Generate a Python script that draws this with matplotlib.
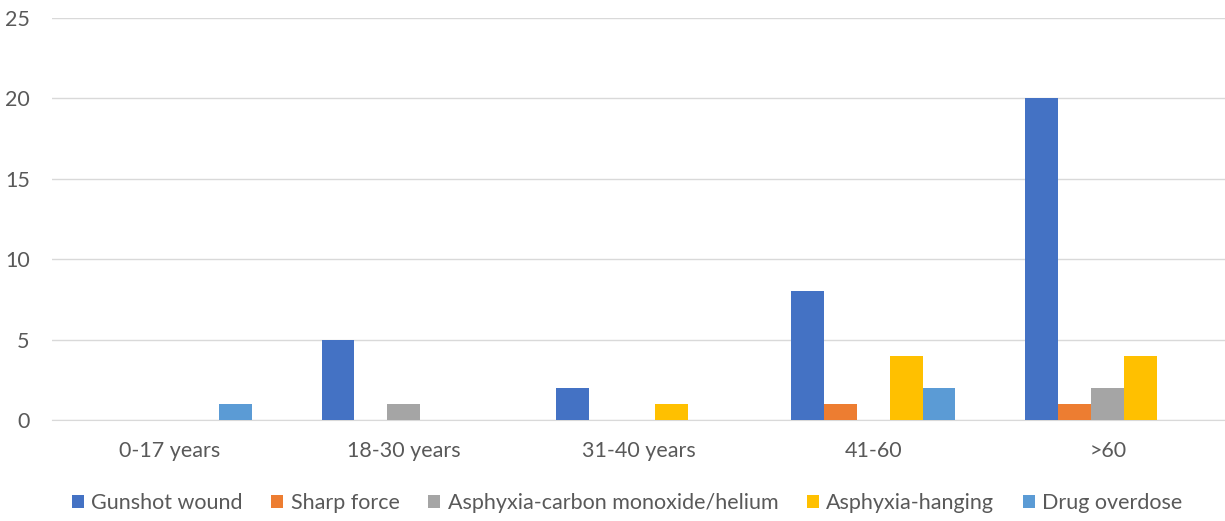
import matplotlib
matplotlib.use("Agg")
import matplotlib.pyplot as plt
import numpy as np

categories = ["0-17 years", "18-30 years", "31-40 years", "41-60", ">60"]
series_names = ["Gunshot wound", "Sharp force", "Asphyxia-carbon monoxide/helium",
                "Asphyxia-hanging", "Drug overdose"]
gunshot = [0, 5, 2, 8, 20]
sharp = [0, 0, 0, 1, 1]
co_helium = [0, 1, 0, 0, 2]
hanging = [0, 0, 1, 4, 4]
overdose = [1, 0, 0, 2, 0]
yticks = [0, 5, 10, 15, 20, 25]

series = [gunshot, sharp, co_helium, hanging, overdose]
colors = ["#4472C4", "#ED7D31", "#A5A5A5", "#FFC000", "#5B9BD5"]

plt.rcParams['font.family'] = ['Lato', 'DejaVu Sans']

fig = plt.figure(figsize=(12.25, 5.21), dpi=100)
ax = fig.add_axes([52/1225, 1-420/521, 1173/1225, 402/521])

x = np.arange(len(categories))
bw = 33/235
for i, (vals, c, name) in enumerate(zip(series, colors, series_names)):
    ax.bar(x + (i - 2) * bw, vals, width=bw, color=c, label=name, zorder=3)

ax.set_xlim(-0.5, len(categories) - 0.5)
ax.set_ylim(0, 25)
ax.set_yticks(yticks)
ax.set_xticks(x)
ax.set_xticklabels(categories)
ax.grid(axis='y', color='#D9D9D9', linewidth=1, zorder=0)
for s in ['top', 'right', 'left']:
    ax.spines[s].set_visible(False)
ax.spines['bottom'].set_color('#D9D9D9')
ax.tick_params(axis='both', length=0, labelsize=15.5, colors='#595959')
ax.tick_params(axis='x', pad=15)
ax.tick_params(axis='y', pad=16)

leg = fig.legend(loc='center', bbox_to_anchor=(0.512, 1-503/521), ncol=5, frameon=False,
                 fontsize=15.5, handlelength=0.55, handleheight=0.55, handletextpad=0.35,
                 columnspacing=1.33)
for t in leg.get_texts():
    t.set_color('#595959')

fig.savefig("out.png", dpi=100)
